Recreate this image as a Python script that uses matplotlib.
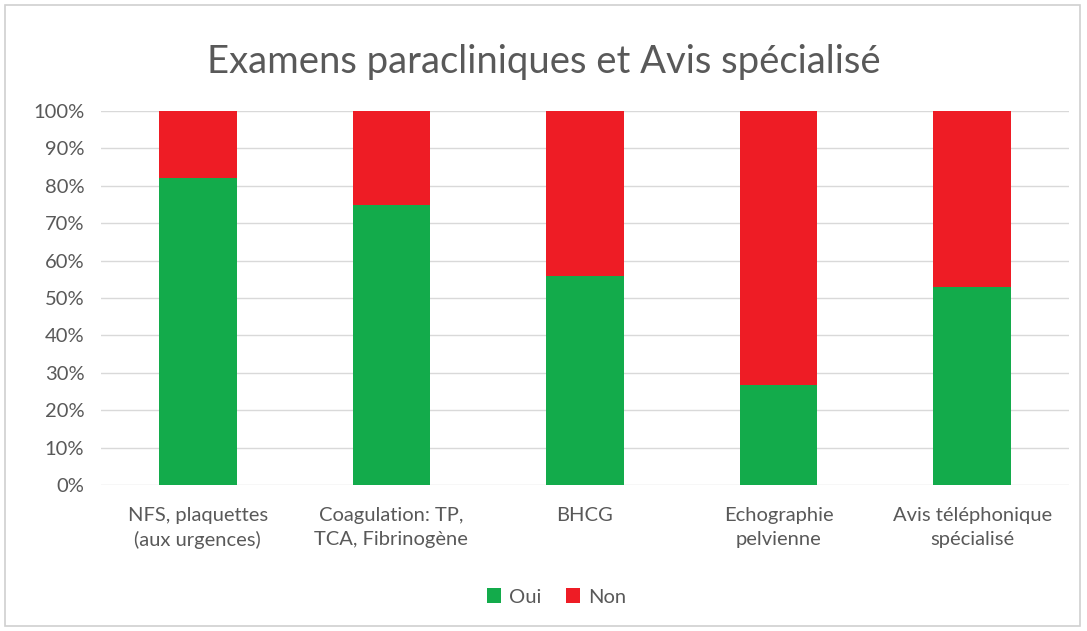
import matplotlib.pyplot as plt
from matplotlib.patches import Rectangle
from matplotlib.ticker import PercentFormatter

categories = ['NFS, plaquettes\n(aux urgences)', 'Coagulation: TP,\nTCA, Fibrinogène',
              'BHCG', 'Echographie\npelvienne', 'Avis téléphonique\nspécialisé']
oui = [82, 75, 56, 26.7, 53]
non = [100 - v for v in oui]

GREEN = '#13AB4B'
RED = '#EE1C25'
TEXT = '#595959'

plt.rcParams['font.family'] = ['Lato', 'DejaVu Sans']

fig = plt.figure(figsize=(10.87, 6.31), dpi=100)
ax = fig.add_axes([101 / 1087, 1 - 485 / 631, 968 / 1087, 374 / 631])

x = range(len(categories))
ax.bar(x, oui, width=0.4, color=GREEN, label='Oui', zorder=3)
ax.bar(x, non, width=0.4, bottom=oui, color=RED, label='Non', zorder=3)

ax.set_xlim(-0.5, len(categories) - 0.5)
ax.set_ylim(0, 100)
ax.set_yticks(range(0, 101, 10))
ax.yaxis.set_major_formatter(PercentFormatter(decimals=0))
ax.set_xticks(list(x))
ax.set_xticklabels(categories, linespacing=1.45)
ax.grid(axis='y', color='#D9D9D9', lw=1, zorder=0)
for s in ax.spines.values():
    s.set_visible(False)
ax.tick_params(axis='both', length=0, labelsize=14.5, colors=TEXT)
ax.tick_params(axis='x', pad=16)
ax.tick_params(axis='y', pad=12)

fig.text(0.5, 1 - 62 / 631, 'Examens paracliniques et Avis spécialisé',
         ha='center', va='center', fontsize=27.5, color=TEXT)

fig.legend(loc='center', bbox_to_anchor=(0.512, 1 - 597 / 631), ncol=2, frameon=False,
           fontsize=14.5, handlelength=0.7, handleheight=0.7, handletextpad=0.4,
           columnspacing=1.2, labelcolor=TEXT)

# outer chart frame
fig.patches.append(Rectangle((5 / 1087, 5 / 631), 1075 / 1087, 621 / 631,
                             transform=fig.transFigure, fill=False,
                             ec='#D0D0D0', lw=1.2))

fig.savefig('out.png', dpi=100)
